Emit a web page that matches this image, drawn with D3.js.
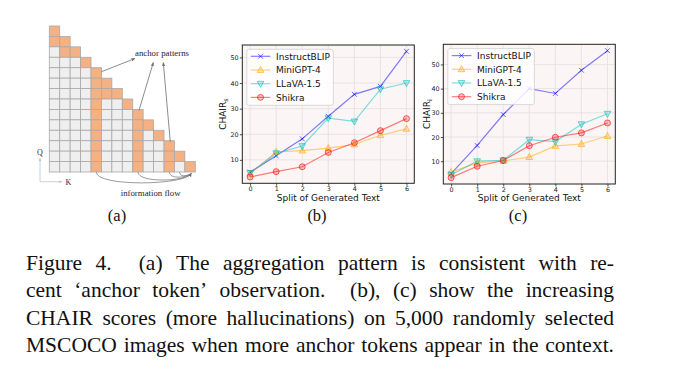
<!DOCTYPE html>
<html><head><meta charset="utf-8">
<script src="https://cdn.jsdelivr.net/npm/d3@7"></script>
<style>body{margin:0;background:#fff}</style>
</head><body>
<svg id="fig" width="686" height="383"></svg>
<script>
// ---------------- data ----------------
const splits = [0, 1, 2, 3, 4, 5, 6];
const models = ["InstructBLIP", "MiniGPT-4", "LLaVA-1.5", "Shikra"];
const yTicks = [10, 20, 30, 40, 50];

// (b) CHAIR_s
const chairS_InstructBLIP = [5.2, 11.6, 18.2, 27.0, 35.6, 38.7, 52.4];
const chairS_MiniGPT4     = [4.6, 13.1, 13.6, 14.6, 16.0, 19.6, 22.1];
const chairS_LLaVA15      = [4.9, 12.6, 15.4, 26.3, 25.0, 37.6, 40.0];
const chairS_Shikra       = [3.3, 5.4, 7.3, 12.9, 16.7, 21.4, 26.1];

// (c) CHAIR_i
const chairI_InstructBLIP = [4.9, 16.5, 29.3, 40.0, 38.0, 47.6, 55.7];
const chairI_MiniGPT4     = [5.5, 9.3, 10.1, 11.7, 16.3, 17.1, 20.4];
const chairI_LLaVA15      = [4.4, 10.0, 10.4, 18.9, 18.1, 25.3, 29.6];
const chairI_Shikra       = [3.2, 7.9, 10.3, 16.4, 19.9, 21.7, 25.8];

// (a) anchor-pattern attention map: 14x14 lower triangle
const gridN = 14;
// [column, fromRow, toRow] spans of highlighted (anchor) cells, besides the diagonal
const anchorSpans = [[0, 0, 1], [1, 1, 2], [4, 4, 13], [5, 5, 6], [8, 8, 13], [11, 11, 13]];
const flowSources = [4, 8, 11, 12];
const arrowSources = [[4, 4], [8, 8], [11, 11]]; // [row, col] anchor cells pointing to label

const captionLines = [
  "Figure 4.  (a) The aggregation pattern is consistent with re-",
  "cent \u2018anchor token\u2019 observation.  (b), (c) show the increasing",
  "CHAIR scores (more hallucinations) on 5,000 randomly selected",
  "MSCOCO images when more anchor tokens appear in the context."
];

// ---------------- drawing ----------------
const svg = d3.select("#fig");
svg.append("rect").attr("width", 686).attr("height", 383).attr("fill", "#fff");

const defs = svg.append("defs");
defs.append("marker").attr("id", "ah").attr("viewBox", "0 0 10 10")
  .attr("refX", 9).attr("refY", 5).attr("markerWidth", 5).attr("markerHeight", 5)
  .attr("orient", "auto-start-reverse")
  .append("path").attr("d", "M0,1 L10,5 L0,9 z").attr("fill", "#6f6f6f");
defs.append("marker").attr("id", "ahl").attr("viewBox", "0 0 10 10")
  .attr("refX", 9).attr("refY", 5).attr("markerWidth", 4).attr("markerHeight", 4)
  .attr("orient", "auto-start-reverse")
  .append("path").attr("d", "M0,1 L10,5 L0,9 z").attr("fill", "#b8c4d0");

// ----- panel (a) -----
(function drawA() {
  const g = svg.append("g");
  const band = d3.scaleBand().domain(d3.range(gridN)).range([49.3, 195.3]).padding(0);
  const isAnchor = (r, c) => r === c || anchorSpans.some(([col, r0, r1]) => col === c && r >= r0 && r <= r1);
  const cells = [];
  for (let r = 0; r < gridN; r++) for (let c = 0; c <= r; c++) cells.push({ r, c, a: isAnchor(r, c) });
  const by = d3.scaleBand().domain(d3.range(gridN)).range([26, 172]).padding(0);
  g.selectAll("rect.cell").data(cells).join("rect")
    .attr("x", d => band(d.c)).attr("y", d => by(d.r))
    .attr("width", band.bandwidth()).attr("height", by.bandwidth())
    .attr("fill", d => d.a ? "#f4b183" : "#efefef")
    .attr("stroke", "#a9a9a9").attr("stroke-width", 0.8);

  // arrows to "anchor patterns"
  const labelPts = [[135, 58.5], [153.3, 62.5], [163.3, 62.5]];
  arrowSources.forEach(([r, c], i) => {
    const sx = i === 0 ? band(c) + band.bandwidth() : band(c) + band.bandwidth() * 0.6;
    const sy = i === 0 ? by(r) + 4 : by(r) + 1;
    g.append("line").attr("x1", sx).attr("y1", sy)
      .attr("x2", labelPts[i][0]).attr("y2", labelPts[i][1])
      .attr("stroke", "#6f6f6f").attr("stroke-width", 0.8).attr("marker-end", "url(#ah)");
  });
  g.append("text").attr("x", 135).attr("y", 56).text("anchor patterns")
    .attr("font-family", "Liberation Serif").attr("font-size", 8.8).attr("fill", "#1d2433");

  // information flow arcs
  const yb = by(gridN - 1) + by.bandwidth();
  const ex = band(gridN - 1) + band.bandwidth() * 0.62, ey = yb + 1.5;
  const depths = [15, 11, 7, 5];
  flowSources.forEach((c, i) => {
    const sx = band(c) + band.bandwidth() / 2;
    const p = d3.path();
    p.moveTo(sx, yb);
    p.bezierCurveTo(sx, yb + depths[i], ex - 6, yb + depths[i] * 0.9, ex, ey);
    g.append("path").attr("d", p.toString()).attr("fill", "none")
      .attr("stroke", "#6f6f6f").attr("stroke-width", 0.7)
      .attr("marker-end", i === 0 ? "url(#ah)" : null);
  });
  g.append("text").attr("x", 120.7).attr("y", 196).text("information flow")
    .attr("font-family", "Liberation Serif").attr("font-size", 8.8).attr("fill", "#1d2433");

  // Q / K axes
  g.append("line").attr("x1", 40).attr("y1", 181.7).attr("x2", 40).attr("y2", 158)
    .attr("stroke", "#b8c4d0").attr("stroke-width", 0.8).attr("marker-end", "url(#ahl)");
  g.append("line").attr("x1", 40).attr("y1", 181.7).attr("x2", 62).attr("y2", 181.7)
    .attr("stroke", "#b8c4d0").attr("stroke-width", 0.8).attr("marker-end", "url(#ahl)");
  g.append("text").attr("x", 40).attr("y", 154.5).attr("text-anchor", "middle").text("Q")
    .attr("font-family", "Liberation Serif").attr("font-size", 8).attr("fill", "#1d2a4d");
  g.append("text").attr("x", 65.5).attr("y", 185).text("K")
    .attr("font-family", "Liberation Serif").attr("font-size", 8).attr("fill", "#1d2a4d");
})();

// ----- panels (b), (c) -----
const colors = ["#0000ff", "#ffa500", "#00c0c0", "#ff0000"];
const shapes = ["x", "tri-up", "tri-down", "circle"];

function markerPath(shape, s) {
  const p = d3.path();
  if (shape === "x") { p.moveTo(-s, -s); p.lineTo(s, s); p.moveTo(-s, s); p.lineTo(s, -s); }
  else if (shape === "tri-up") { p.moveTo(0, -s * 1.2); p.lineTo(s * 1.1, s * 0.8); p.lineTo(-s * 1.1, s * 0.8); p.closePath(); }
  else if (shape === "tri-down") { p.moveTo(0, s * 1.2); p.lineTo(s * 1.1, -s * 0.8); p.lineTo(-s * 1.1, -s * 0.8); p.closePath(); }
  else { p.arc(0, 0, s, 0, 2 * Math.PI); }
  return p.toString();
}
function drawMarker(sel, i, cx, cy) {
  sel.append("path").attr("d", markerPath(shapes[i], i === 0 ? 2.4 : 3))
    .attr("transform", `translate(${cx},${cy})`)
    .attr("fill", i === 0 ? "none" : colors[i]).attr("fill-opacity", 0.22)
    .attr("stroke", colors[i]).attr("stroke-opacity", 0.6).attr("stroke-width", 1);
}

const panels = [
  { series: [chairS_InstructBLIP, chairS_MiniGPT4, chairS_LLaVA15, chairS_Shikra], sub: "s",
    left: 242.3, top: 45, right: 414.3, bottom: 183.3, ylabX: 226, tag: "(b)", tagX: 317 },
  { series: [chairI_InstructBLIP, chairI_MiniGPT4, chairI_LLaVA15, chairI_Shikra], sub: "i",
    left: 443.3, top: 44.3, right: 615.3, bottom: 184, ylabX: 429.5, tag: "(c)", tagX: 518 }
];

panels.forEach(P => {
  const g = svg.append("g");
  const x = d3.scaleLinear().domain([-0.3, 6.3]).range([P.left, P.right]);
  const all = P.series.flat();
  const lo = d3.min(all), hi = d3.max(all), pad = (hi - lo) * 0.05;
  const y = d3.scaleLinear().domain([lo - pad, hi + pad]).range([P.bottom, P.top]);

  g.append("rect").attr("x", P.left).attr("y", P.top)
    .attr("width", P.right - P.left).attr("height", P.bottom - P.top).attr("fill", "#fcf5f5");
  // grid
  g.selectAll("line.gx").data(splits).join("line")
    .attr("x1", d => x(d)).attr("x2", d => x(d)).attr("y1", P.top).attr("y2", P.bottom)
    .attr("stroke", "#e4dede").attr("stroke-width", 0.8);
  g.selectAll("line.gy").data(yTicks).join("line")
    .attr("y1", d => y(d)).attr("y2", d => y(d)).attr("x1", P.left).attr("x2", P.right)
    .attr("stroke", "#e4dede").attr("stroke-width", 0.8);

  const line = d3.line().x((d, i) => x(splits[i])).y(d => y(d));
  P.series.forEach((vals, i) => {
    g.append("path").attr("d", line(vals)).attr("fill", "none")
      .attr("stroke", colors[i]).attr("stroke-opacity", 0.5).attr("stroke-width", 1.2);
  });
  P.series.forEach((vals, i) => {
    vals.forEach((v, k) => drawMarker(g, i, x(splits[k]), y(v)));
  });

  // spines
  g.append("rect").attr("x", P.left).attr("y", P.top)
    .attr("width", P.right - P.left).attr("height", P.bottom - P.top)
    .attr("fill", "none").attr("stroke", "#222").attr("stroke-width", 1);

  const ax = g.append("g").attr("transform", `translate(0,${P.bottom})`)
    .call(d3.axisBottom(x).tickValues(splits).tickSize(2.5).tickPadding(1.0).tickFormat(d3.format("d")));
  const ay = g.append("g").attr("transform", `translate(${P.left},0)`)
    .call(d3.axisLeft(y).tickValues(yTicks).tickSize(2.5).tickPadding(1.2).tickFormat(d3.format("d")));
  [ax, ay].forEach(a => {
    a.select(".domain").remove();
    a.selectAll("line").attr("stroke", "#222").attr("stroke-width", 0.8);
    a.selectAll("text").attr("font-family", "DejaVu Sans").attr("font-size", 6.4).attr("fill", "#222");
  });

  g.append("text").attr("x", (P.left + P.right) / 2).attr("y", 201.3).attr("text-anchor", "middle")
    .attr("font-family", "DejaVu Sans").attr("font-size", 9).attr("fill", "#111")
    .text("Split of Generated Text");
  const yl = g.append("text")
    .attr("transform", `translate(${P.ylabX},${(P.top + P.bottom) / 2}) rotate(-90)`)
    .attr("text-anchor", "middle").attr("font-family", "DejaVu Sans").attr("font-size", 9).attr("fill", "#111");
  yl.append("tspan").text("CHAIR");
  yl.append("tspan").attr("font-size", 6.3).attr("dy", 2).text(P.sub);

  // legend
  const lg = g.append("g").attr("transform", `translate(${P.left + 4.5},${P.top + 4.3})`);
  const box = lg.append("rect").attr("rx", 2).attr("ry", 2)
    .attr("fill", "#fff").attr("fill-opacity", 0.82).attr("stroke", "#cfcfcf").attr("stroke-width", 0.8);
  let maxW = 0;
  models.forEach((m, i) => {
    const ry = 7 + i * 13.7;
    lg.append("line").attr("x1", 4).attr("x2", 23.5).attr("y1", ry).attr("y2", ry)
      .attr("stroke", colors[i]).attr("stroke-opacity", 0.5).attr("stroke-width", 1.2);
    drawMarker(lg, i, 13.7, ry);
    const t = lg.append("text").attr("x", 29.3).attr("y", ry + 3.3).text(m)
      .attr("font-family", "DejaVu Sans").attr("font-size", 9).attr("fill", "#111");
    maxW = Math.max(maxW, t.node().getComputedTextLength());
  });
  box.attr("width", 29.3 + maxW + 3.5).attr("height", 56);

  svg.append("text").attr("x", P.tagX).attr("y", 220.5).attr("text-anchor", "middle")
    .attr("font-family", "Liberation Serif").attr("font-size", 16.5).attr("fill", "#111").text(P.tag);
});

svg.append("text").attr("x", 117).attr("y", 220.5).attr("text-anchor", "middle")
  .attr("font-family", "Liberation Serif").attr("font-size", 16.5).attr("fill", "#111").text("(a)");

// ----- caption (justified) -----
const capLeft = 26, capRight = 614, capBase = 269.5, capStep = 27.6;
captionLines.forEach((line, li) => {
  const parts = line.split(/( +)/);
  const words = [], gaps = [];
  parts.forEach((p, k) => {
    if (k % 2 === 0) words.push(p); else gaps.push(p.length);
  });
  const tg = svg.append("g");
  const nodes = words.map(w => tg.append("text").text(w)
    .attr("font-family", "Liberation Serif").attr("font-size", 21.5).attr("fill", "#111")
    .attr("y", capBase + li * capStep));
  const widths = nodes.map(n => n.node().getComputedTextLength());
  const free = (capRight - capLeft) - d3.sum(widths);
  const unit = free / d3.sum(gaps);
  let xx = capLeft;
  nodes.forEach((n, k) => {
    n.attr("x", xx);
    xx += widths[k] + (k < gaps.length ? gaps[k] * unit : 0);
  });
});
</script>
</body></html>
